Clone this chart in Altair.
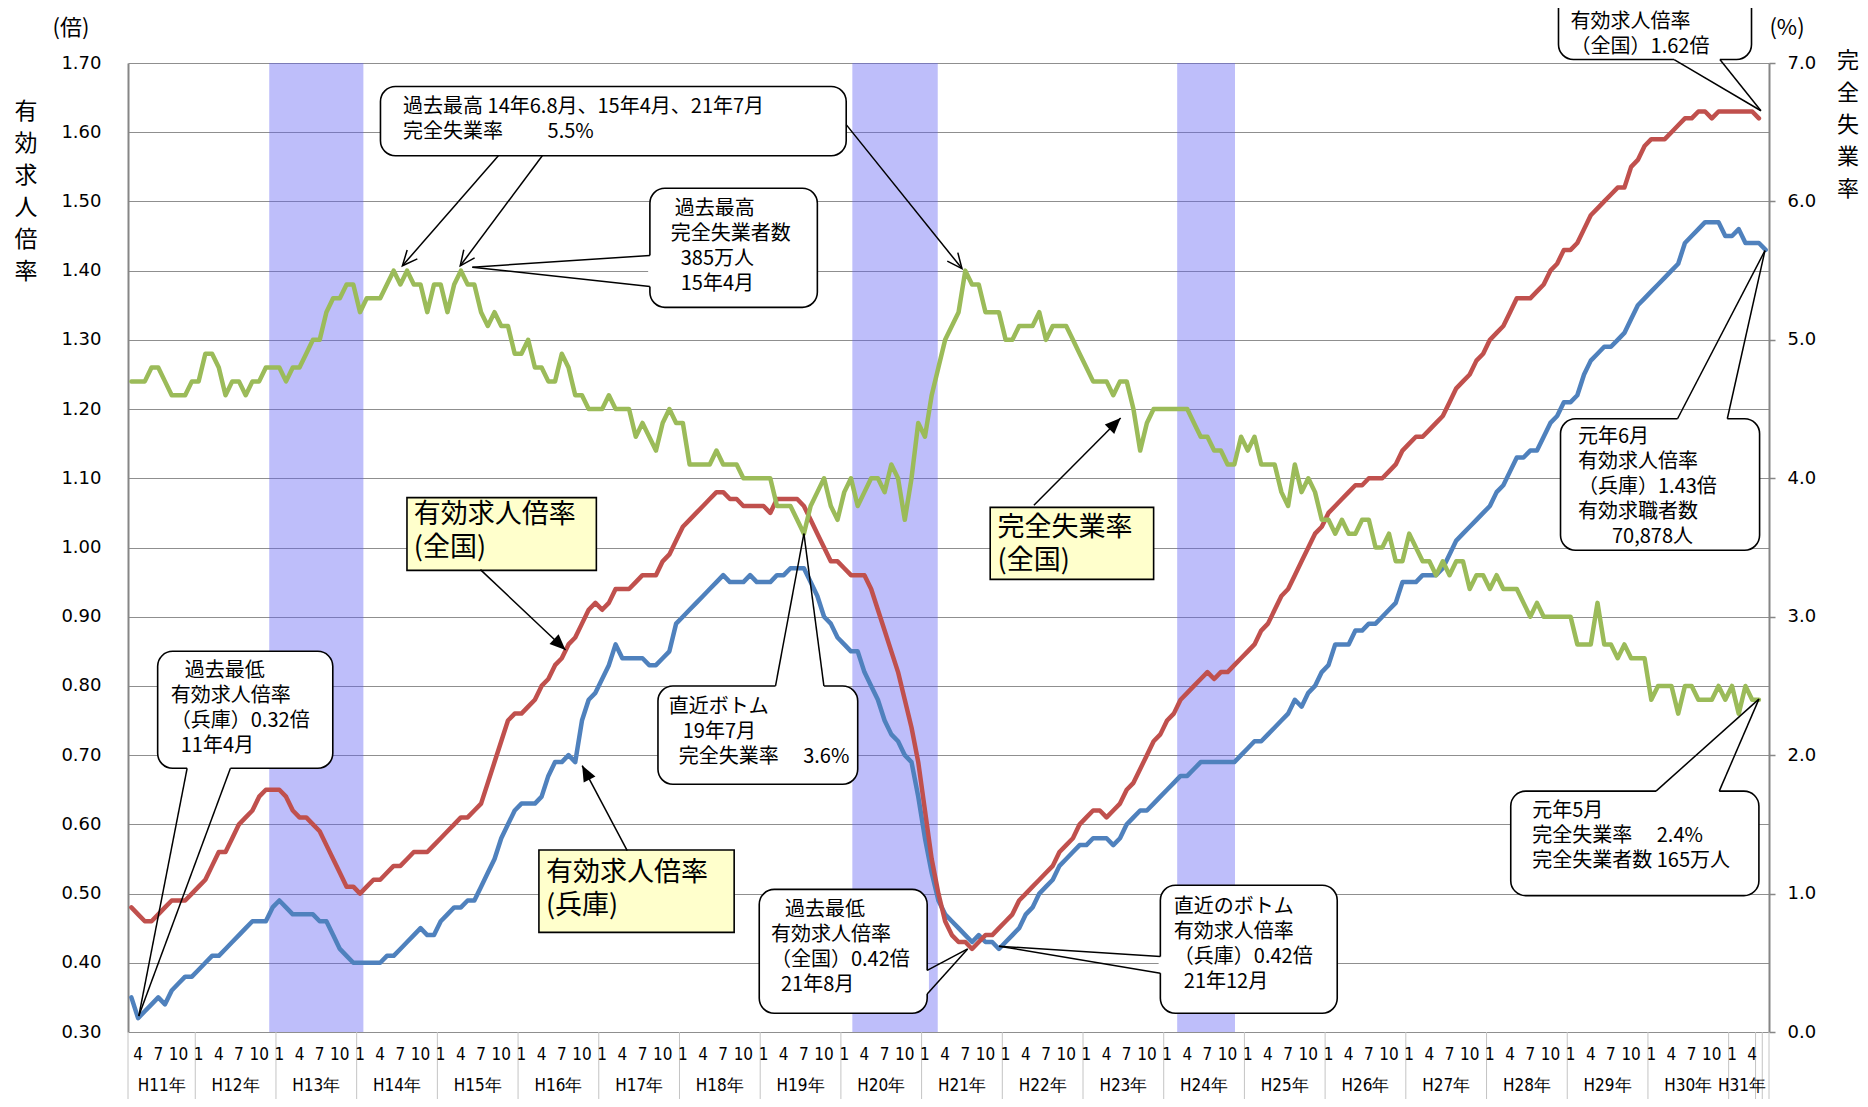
import math
import altair as alt
import pandas as pd

# ------------------------------------------------------------------
# Monthly data, starting H11年3月 (1999-03). One row = one year.
# ------------------------------------------------------------------
ratio_hyogo = [  # 有効求人倍率（兵庫） H11.3 - R1.6
    0.35, 0.32, 0.33, 0.34, 0.35, 0.34, 0.36, 0.37, 0.38, 0.38,              # H11
    0.39, 0.40, 0.41, 0.41, 0.42, 0.43, 0.44, 0.45, 0.46, 0.46, 0.46, 0.48,  # H12
    0.49, 0.48, 0.47, 0.47, 0.47, 0.47, 0.46, 0.46, 0.44, 0.42, 0.41, 0.40,  # H13
    0.40, 0.40, 0.40, 0.40, 0.41, 0.41, 0.42, 0.43, 0.44, 0.45, 0.44, 0.44,  # H14
    0.46, 0.47, 0.48, 0.48, 0.49, 0.49, 0.51, 0.53, 0.55, 0.58, 0.60, 0.62,  # H15
    0.63, 0.63, 0.63, 0.64, 0.67, 0.69, 0.69, 0.70, 0.69, 0.75, 0.78, 0.79,  # H16
    0.81, 0.83, 0.86, 0.84, 0.84, 0.84, 0.84, 0.83, 0.83, 0.84, 0.85, 0.89,  # H17
    0.90, 0.91, 0.92, 0.93, 0.94, 0.95, 0.96, 0.95, 0.95, 0.95, 0.96, 0.95,  # H18
    0.95, 0.95, 0.96, 0.96, 0.97, 0.97, 0.97, 0.95, 0.93, 0.90, 0.89, 0.87,  # H19
    0.86, 0.85, 0.85, 0.82, 0.80, 0.78, 0.75, 0.73, 0.72, 0.70, 0.69, 0.64,  # H20
    0.58, 0.53, 0.49, 0.47, 0.46, 0.45, 0.44, 0.43, 0.44, 0.43, 0.43, 0.42,  # H21
    0.43, 0.44, 0.45, 0.47, 0.48, 0.50, 0.51, 0.52, 0.54, 0.55, 0.56, 0.57,  # H22
    0.57, 0.58, 0.58, 0.58, 0.57, 0.58, 0.60, 0.61, 0.62, 0.62, 0.63, 0.64,  # H23
    0.65, 0.66, 0.67, 0.67, 0.68, 0.69, 0.69, 0.69, 0.69, 0.69, 0.69, 0.70,  # H24
    0.71, 0.72, 0.72, 0.73, 0.74, 0.75, 0.76, 0.78, 0.77, 0.79, 0.80, 0.82,  # H25
    0.83, 0.86, 0.86, 0.86, 0.88, 0.88, 0.89, 0.89, 0.90, 0.91, 0.92, 0.95,  # H26
    0.95, 0.95, 0.96, 0.96, 0.96, 0.97, 0.99, 1.01, 1.02, 1.03, 1.04, 1.05,  # H27
    1.06, 1.08, 1.09, 1.11, 1.13, 1.13, 1.14, 1.14, 1.16, 1.18, 1.19, 1.21,  # H28
    1.21, 1.22, 1.25, 1.27, 1.28, 1.29, 1.29, 1.30, 1.31, 1.33, 1.35, 1.36,  # H29
    1.37, 1.38, 1.39, 1.40, 1.41, 1.44, 1.45, 1.46, 1.47, 1.47, 1.47, 1.45,  # H30
    1.45, 1.46, 1.44, 1.44, 1.44, 1.43,                                      # H31/R1
]

ratio_national = [  # 有効求人倍率（全国） H11.3 - R1.5
    0.48, 0.47, 0.46, 0.46, 0.47, 0.48, 0.49, 0.49, 0.49, 0.50,              # H11
    0.51, 0.52, 0.54, 0.56, 0.56, 0.58, 0.60, 0.61, 0.62, 0.64, 0.65, 0.65,  # H12
    0.65, 0.64, 0.62, 0.61, 0.61, 0.60, 0.59, 0.57, 0.55, 0.53, 0.51, 0.51,  # H13
    0.50, 0.51, 0.52, 0.52, 0.53, 0.54, 0.54, 0.55, 0.56, 0.56, 0.56, 0.57,  # H14
    0.58, 0.59, 0.60, 0.61, 0.61, 0.62, 0.63, 0.66, 0.69, 0.72, 0.75, 0.76,  # H15
    0.76, 0.77, 0.78, 0.80, 0.81, 0.83, 0.84, 0.86, 0.87, 0.89, 0.91, 0.92,  # H16
    0.91, 0.92, 0.94, 0.94, 0.94, 0.95, 0.96, 0.96, 0.96, 0.98, 0.99, 1.01,  # H17
    1.03, 1.04, 1.05, 1.06, 1.07, 1.08, 1.08, 1.07, 1.07, 1.06, 1.06, 1.06,  # H18
    1.06, 1.05, 1.07, 1.07, 1.07, 1.07, 1.06, 1.04, 1.02, 1.00, 0.98, 0.98,  # H19
    0.97, 0.96, 0.96, 0.96, 0.94, 0.91, 0.88, 0.85, 0.82, 0.78, 0.74, 0.69,  # H20
    0.62, 0.55, 0.50, 0.46, 0.44, 0.43, 0.43, 0.42, 0.43, 0.44, 0.44, 0.45,  # H21
    0.46, 0.47, 0.49, 0.50, 0.51, 0.52, 0.53, 0.54, 0.56, 0.57, 0.58, 0.60,  # H22
    0.61, 0.62, 0.62, 0.61, 0.62, 0.63, 0.65, 0.66, 0.68, 0.70, 0.72, 0.73,  # H23
    0.75, 0.76, 0.78, 0.79, 0.80, 0.81, 0.82, 0.81, 0.82, 0.82, 0.83, 0.84,  # H24
    0.85, 0.86, 0.88, 0.89, 0.91, 0.93, 0.94, 0.96, 0.98, 1.00, 1.02, 1.03,  # H25
    1.05, 1.06, 1.07, 1.08, 1.09, 1.09, 1.10, 1.10, 1.10, 1.11, 1.12, 1.14,  # H26
    1.15, 1.16, 1.16, 1.17, 1.18, 1.19, 1.21, 1.23, 1.24, 1.25, 1.27, 1.28,  # H27
    1.30, 1.31, 1.32, 1.34, 1.36, 1.36, 1.36, 1.37, 1.38, 1.40, 1.41, 1.43,  # H28
    1.43, 1.44, 1.46, 1.48, 1.49, 1.50, 1.51, 1.52, 1.52, 1.55, 1.56, 1.58,  # H29
    1.59, 1.59, 1.59, 1.60, 1.61, 1.62, 1.62, 1.63, 1.63, 1.62, 1.63, 1.63,  # H30
    1.63, 1.63, 1.63, 1.63, 1.62,                                            # H31/R1
]

unemployment = [  # 完全失業率（全国, %） H11.3 - R1.5
    4.7, 4.7, 4.7, 4.8, 4.8, 4.7, 4.6, 4.6, 4.6, 4.7,            # H11
    4.7, 4.9, 4.9, 4.8, 4.6, 4.7, 4.7, 4.6, 4.7, 4.7, 4.8, 4.8,  # H12
    4.8, 4.7, 4.8, 4.8, 4.9, 5.0, 5.0, 5.2, 5.3, 5.3, 5.4, 5.4,  # H13
    5.2, 5.3, 5.3, 5.3, 5.4, 5.5, 5.4, 5.5, 5.4, 5.4, 5.2, 5.4,  # H14
    5.4, 5.2, 5.4, 5.5, 5.4, 5.4, 5.2, 5.1, 5.2, 5.1, 5.1, 4.9,  # H15
    4.9, 5.0, 4.8, 4.8, 4.7, 4.7, 4.9, 4.8, 4.6, 4.6, 4.5, 4.5,  # H16
    4.5, 4.6, 4.5, 4.5, 4.5, 4.3, 4.4, 4.3, 4.2, 4.4, 4.5, 4.4,  # H17
    4.4, 4.1, 4.1, 4.1, 4.1, 4.2, 4.1, 4.1, 4.1, 4.0, 4.0, 4.0,  # H18
    4.0, 4.0, 3.8, 3.8, 3.8, 3.7, 3.6, 3.8, 3.9, 4.0, 3.8, 3.7,  # H19
    3.9, 4.0, 3.8, 3.9, 4.0, 4.0, 3.9, 4.1, 4.0, 3.7, 4.0, 4.4,  # H20
    4.3, 4.6, 4.8, 5.0, 5.1, 5.2, 5.5, 5.4, 5.4, 5.2, 5.2, 5.2,  # H21
    5.0, 5.0, 5.1, 5.1, 5.1, 5.2, 5.0, 5.1, 5.1, 5.1, 5.0, 4.9,  # H22
    4.8, 4.7, 4.7, 4.7, 4.6, 4.7, 4.7, 4.5, 4.2, 4.4, 4.5, 4.5,  # H23
    4.5, 4.5, 4.5, 4.5, 4.4, 4.3, 4.3, 4.2, 4.2, 4.1, 4.1, 4.3,  # H24
    4.2, 4.3, 4.1, 4.1, 4.1, 3.9, 3.8, 4.1, 3.9, 4.0, 3.9, 3.7,  # H25
    3.7, 3.6, 3.7, 3.6, 3.6, 3.7, 3.7, 3.5, 3.5, 3.6, 3.4, 3.4,  # H26
    3.6, 3.5, 3.4, 3.4, 3.3, 3.4, 3.3, 3.4, 3.4, 3.2, 3.3, 3.3,  # H27
    3.2, 3.3, 3.2, 3.2, 3.2, 3.1, 3.0, 3.1, 3.0, 3.0, 3.0, 3.0,  # H28
    3.0, 2.8, 2.8, 2.8, 3.1, 2.8, 2.8, 2.7, 2.8, 2.7, 2.7, 2.7,  # H29
    2.4, 2.5, 2.5, 2.5, 2.3, 2.5, 2.5, 2.4, 2.4, 2.4, 2.5, 2.4,  # H30
    2.5, 2.3, 2.5, 2.4, 2.4,                                     # H31/R1
]

first_month = 3          # series start in March of H11
n_months = 244           # H11.3 ... R1.6

year_labels = ["H11年", "H12年", "H13年", "H14年", "H15年", "H16年", "H17年",
               "H18年", "H19年", "H20年", "H21年", "H22年", "H23年", "H24年",
               "H25年", "H26年", "H27年", "H28年", "H29年", "H30年", "H31年"]
year_start = [0, 10, 22, 34, 46, 58, 70, 82, 94, 106, 118, 130, 142, 154,
              166, 178, 190, 202, 214, 226, 238]
year_end = year_start[1:] + [242]
extra_dividers = [243, 244]

# recession periods (shaded), in month units
recession_start = [21, 107.7, 156]
recession_end = [35, 120.4, 164.6]

# ------------------------------------------------------------------
# Annotations (data units: month index, 倍)
# Z = zero-width mark so that leading indentation spaces survive.
# ------------------------------------------------------------------
Z = "\u200b"
EN, EM, TH = "\u2002", "\u3000", "\u2009"
callout_text = [
    Z + EN + TH + "過去最低\n有効求人倍率\n（兵庫）0.32倍\n" + Z + EN + "11年4月",
    "過去最高 14年6.8月、15年4月、21年7月\n完全失業率" + EM + EM + " 5.5%",
    Z + TH + "過去最高\n完全失業者数\n" + Z + EN + "385万人\n" + Z + EN + "15年4月",
    "直近ボトム\n" + Z + EN + TH + "19年7月\n" + Z + EN + "完全失業率" + EM + " 3.6%",
    Z + EN + TH + "過去最低\n有効求人倍率\n（全国）0.42倍\n" + Z + EN + "21年8月",
    "直近のボトム\n有効求人倍率\n（兵庫）0.42倍\n" + Z + EN + "21年12月",
    "有効求人倍率\n（全国）1.62倍",
    "元年6月\n有効求人倍率\n（兵庫）1.43倍\n有効求職者数\n" + Z + EM + EN + TH + "70,878人",
    "元年5月\n完全失業率" + EM + " 2.4%\n完全失業者数 165万人",
]
callout_left = [4.41, 37.54, 77.6, 78.8, 93.86, 153.5, 212.7, 213.0, 205.6]
callout_right = [30.45, 106.79, 102.5, 108.5, 118.83, 179.8, 241.4, 242.6, 242.5]
callout_top = [0.850, 1.666, 1.519, 0.800, 0.506, 0.512, 1.83, 1.186, 0.648]
callout_bottom = [0.681, 1.566, 1.347, 0.658, 0.327, 0.327, 1.705, 0.996, 0.497]
callout_text_m = [6.36, 40.9, 80.7, 80.4, 95.6, 155.5, 214.5, 215.6, 208.8]
callout_text_v = [0.836, 1.651, 1.503, 0.784, 0.490, 0.495, 1.774, 1.174, 0.634]

# wedge tails: base A, base B, tip
tail_am = [8.79, 77.6, 96.28, 118.83, 153.5, 229.9, 230.4, 227.2]
tail_av = [0.681, 1.422, 0.800, 0.389, 0.409, 1.705, 1.186, 0.648]
tail_bm = [15.23, 77.6, 103.47, 118.83, 153.5, 236.7, 237.8, 236.6]
tail_bv = [0.681, 1.377, 0.800, 0.355, 0.385, 1.705, 1.186, 0.648]
tail_tm = [1.6, 51.2, 100.5, 124.85, 129.5, 242.8, 243.4, 242.5]
tail_tv = [0.323, 1.405, 1.020, 0.420, 0.424, 1.631, 1.429, 0.781]

label_text = ["有効求人倍率\n(全国)", "有効求人倍率\n(兵庫)", "完全失業率\n(全国)"]
label_left = [41.48, 61.1, 128.2]
label_right = [69.64, 90.13, 152.5]
label_top = [1.072, 0.563, 1.058]
label_bottom = [0.967, 0.444, 0.954]
label_text_m = [42.5, 62.15, 129.3]
label_text_v = [1.066, 0.549, 1.047]

# filled arrows from the yellow labels (start -> tip)
arrow_sm = [52.4, 74.23, 134.7]
arrow_sv = [0.968, 0.562, 1.061]
arrow_tm = [65.06, 67.53, 147.6]
arrow_tv = [0.852, 0.685, 1.187]

# open arrows from the "過去最高 ... 5.5%" callout
open_sm = [55.07, 61.6, 106.79]
open_sv = [1.566, 1.566, 1.611]
open_tm = [40.8, 49.4, 124.0]
open_tv = [1.407, 1.407, 1.403]

# ------------------------------------------------------------------
W, H = 1641, 969
V_LO, V_HI = 0.30, 1.70
PX_M = W / n_months
PX_V = H / (V_HI - V_LO)
CJK = "Noto Sans CJK JP"
NUM = "DejaVu Sans"
NARROW = "Liberation Sans Narrow, DejaVu Sans Condensed, sans-serif"

xsc = alt.Scale(domain=[0, n_months], nice=False, zero=False)
ysc = alt.Scale(domain=[V_LO, V_HI], nice=False, zero=False)
usc = alt.Scale(domain=[0, 7], nice=False, zero=False)


def X(f):
    return alt.X(f, type="quantitative", scale=xsc, axis=None)


def Y(f, axis=None):
    return alt.Y(f, type="quantitative", scale=ysc, axis=axis)


def heading(x0, y0, x1, y1):
    dx = (x1 - x0) * PX_M
    dy = -(y1 - y0) * PX_V
    return math.degrees(math.atan2(dx, -dy)) % 360


left_axis = alt.Axis(
    orient="left", values=[round(0.3 + 0.1 * k, 2) for k in range(15)],
    format=".2f", grid=True, gridColor="#8f8f8f", gridWidth=1,
    domainColor="#868686", domainWidth=2, ticks=False, labelPadding=27,
    labelFont=NUM, labelFontSize=18, labelColor="#000", title=None)
right_axis = alt.Axis(
    orient="right", values=list(range(8)), format=".1f", grid=False,
    domainColor="#868686", domainWidth=2, tickColor="#868686", tickSize=6,
    tickWidth=1.5, labelPadding=12, labelFont=NUM, labelFontSize=18,
    labelColor="#000", title=None)

# ---- frames ----
df_shade = pd.DataFrame({"s": recession_start, "e": recession_end,
                         "lo": [V_LO] * 3, "hi": [V_HI] * 3})
df_h = pd.DataFrame({"m": [i + 0.5 for i in range(len(ratio_hyogo))], "v": ratio_hyogo})
df_n = pd.DataFrame({"m": [i + 0.5 for i in range(len(ratio_national))], "v": ratio_national})
df_u = pd.DataFrame({"m": [i + 0.5 for i in range(len(unemployment))], "u": unemployment})

month_num = [((i + first_month - 1) % 12) + 1 for i in range(n_months)]
df_mlab = pd.DataFrame({"m": [i + 0.5 for i in range(n_months) if month_num[i] in (1, 4, 7, 10)],
                        "t": [str(month_num[i]) for i in range(n_months) if month_num[i] in (1, 4, 7, 10)]})
df_ylab = pd.DataFrame({"m": [(a + b) / 2 for a, b in zip(year_start, year_end)], "t": year_labels})
df_div = pd.DataFrame({"m": year_start + [year_end[-1]] + extra_dividers})

df_box = pd.DataFrame({"x1": callout_left, "x2": callout_right, "y1": callout_top, "y2": callout_bottom})
df_ybox = pd.DataFrame({"x1": label_left, "x2": label_right, "y1": label_top, "y2": label_bottom})
df_gap = pd.DataFrame({"a": tail_am, "av": tail_av, "b": tail_bm, "bv": tail_bv})
seg_rows = []
for am, av, bm, bv, tm, tv in zip(tail_am, tail_av, tail_bm, tail_bv, tail_tm, tail_tv):
    seg_rows.append({"x": am, "y": av, "x2": tm, "y2": tv})
    seg_rows.append({"x": bm, "y": bv, "x2": tm, "y2": tv})
for sm, sv, tm, tv in zip(arrow_sm + open_sm, arrow_sv + open_sv, arrow_tm + open_tm, arrow_tv + open_tv):
    seg_rows.append({"x": sm, "y": sv, "x2": tm, "y2": tv})
df_seg = pd.DataFrame(seg_rows)
df_head = pd.DataFrame({"m": arrow_tm, "v": arrow_tv,
                        "ang": [heading(a, b, c, d) for a, b, c, d in zip(arrow_sm, arrow_sv, arrow_tm, arrow_tv)]})
df_ohead = pd.DataFrame({"m": open_tm, "v": open_tv,
                         "ang": [heading(a, b, c, d) for a, b, c, d in zip(open_sm, open_sv, open_tm, open_tv)]})
df_ctext = pd.DataFrame({"m": callout_text_m, "v": callout_text_v, "t": callout_text})
df_ltext = pd.DataFrame({"m": label_text_m, "v": label_text_v, "t": label_text})

# ---- layers ----
shade = alt.Chart(df_shade).mark_rect(color="#5c5cf2", opacity=0.40).encode(
    x=X("s"), x2="e", y=Y("lo", left_axis), y2="hi")

line_style = dict(strokeWidth=4.5, strokeJoin="round", strokeCap="round")
line_h = alt.Chart(df_h).mark_line(color="#4F81BD", **line_style).encode(x=X("m"), y=Y("v"))
line_n = alt.Chart(df_n).mark_line(color="#C0504D", **line_style).encode(x=X("m"), y=Y("v"))
line_u = alt.Chart(df_u).mark_line(color="#9BBB59", **line_style).encode(
    x=X("m"), y=alt.Y("u", type="quantitative", scale=usc, axis=right_axis))

dividers = alt.Chart(df_div).mark_rule(color="#c4c4c4", strokeWidth=1).encode(
    x=X("m"), y=alt.value(H), y2=alt.value(H + 72))
month_labels = alt.Chart(df_mlab).mark_text(font=NARROW, fontSize=17, color="#000",
                                            baseline="middle").encode(
    x=X("m"), y=alt.value(H + 23), text="t:N")
year_text = alt.Chart(df_ylab).mark_text(font=NARROW, fontSize=17, color="#000",
                                         baseline="middle").encode(
    x=X("m"), y=alt.value(H + 54), text="t:N")

boxes = alt.Chart(df_box).mark_rect(fill="white", stroke="black", strokeWidth=1.6,
                                    cornerRadius=15).encode(
    x=X("x1"), x2="x2", y=Y("y1"), y2="y2")
ybox = alt.Chart(df_ybox).mark_rect(fill="#FFFFCC", stroke="black", strokeWidth=1.6).encode(
    x=X("x1"), x2="x2", y=Y("y1"), y2="y2")
gaps = alt.Chart(df_gap).mark_rule(color="white", strokeWidth=3.5).encode(
    x=X("a"), y=Y("av"), x2="b", y2="bv")
segs = alt.Chart(df_seg).mark_rule(color="black", strokeWidth=1.5).encode(
    x=X("x"), y=Y("y"), x2="x2", y2="y2")
heads = alt.Chart(df_head).mark_point(shape="M0,0L-0.42,1L0.42,1Z", filled=True, size=1000,
                                      color="black", opacity=1).encode(
    x=X("m"), y=Y("v"), angle=alt.Angle("ang:Q", scale=None))
oheads = alt.Chart(df_ohead).mark_point(shape="M-0.45,1L0,0L0.45,1", filled=False, size=900,
                                        color="black", strokeWidth=1.5, opacity=1).encode(
    x=X("m"), y=Y("v"), angle=alt.Angle("ang:Q", scale=None))
ctext = alt.Chart(df_ctext).mark_text(align="left", baseline="top", font=CJK, fontSize=20,
                                      lineHeight=25, lineBreak="\n", color="#000").encode(
    x=X("m"), y=Y("v"), text="t:N")
ltext = alt.Chart(df_ltext).mark_text(align="left", baseline="top", font=CJK, fontSize=27,
                                      lineHeight=33, lineBreak="\n", color="#000").encode(
    x=X("m"), y=Y("v"), text="t:N")

unit_left = alt.Chart(pd.DataFrame({"t": ["(倍)"]})).mark_text(
    font=CJK, fontSize=22, color="#000", baseline="middle").encode(
    x=alt.value(-57), y=alt.value(-35), text="t:N")
unit_right = alt.Chart(pd.DataFrame({"t": ["(%)"]})).mark_text(
    font=CJK, fontSize=22, color="#000", baseline="middle").encode(
    x=alt.value(1659), y=alt.value(-35), text="t:N")
title_left = alt.Chart(pd.DataFrame({"t": ["有\n効\n求\n人\n倍\n率"]})).mark_text(
    font=CJK, fontSize=23, lineHeight=32, lineBreak="\n", color="#000", baseline="top").encode(
    x=alt.value(-102), y=alt.value(38), text="t:N")
title_right = alt.Chart(pd.DataFrame({"t": ["完\n全\n失\n業\n率"]})).mark_text(
    font=CJK, fontSize=22, lineHeight=32, lineBreak="\n", color="#000", baseline="top").encode(
    x=alt.value(1720), y=alt.value(-12), text="t:N")

chart = alt.layer(
    shade, line_h, line_n, line_u, dividers, month_labels, year_text,
    boxes, ybox, gaps, segs, heads, oheads, ctext, ltext,
    unit_left, unit_right, title_left, title_right,
).resolve_scale(y="independent").properties(
    width=W, height=H,
    padding={"left": 120, "top": 55, "right": 91, "bottom": 67},
    autosize=alt.AutoSizeParams(type="none"),
).configure_view(stroke=None)

chart.save("out.html", embed_options={"renderer": "svg", "actions": False})
